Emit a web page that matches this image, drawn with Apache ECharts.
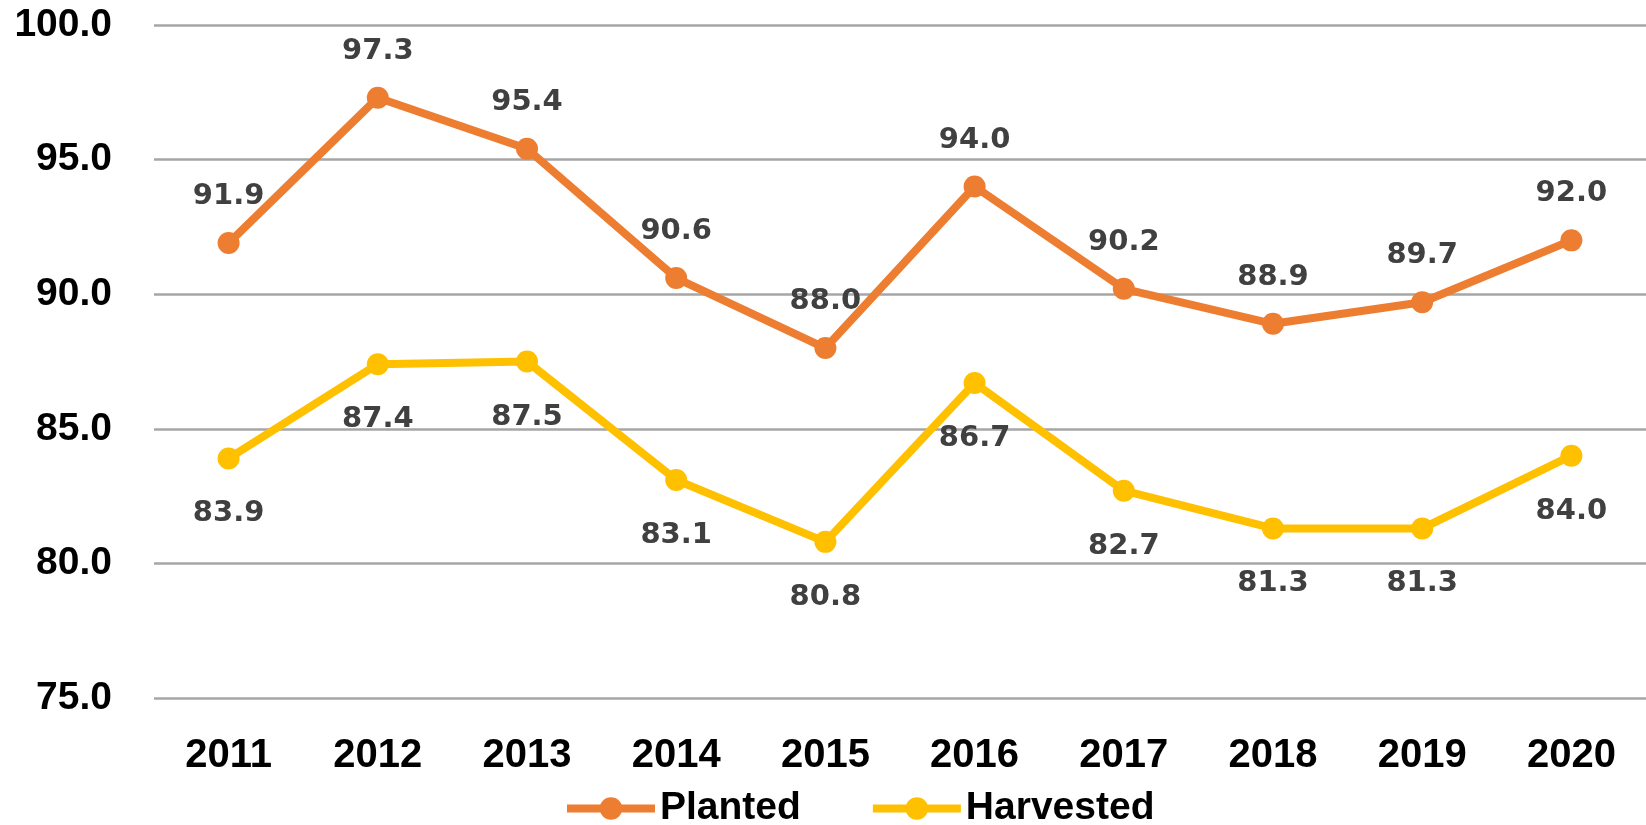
<!DOCTYPE html>
<html>
<head>
<meta charset="utf-8">
<script src="https://cdn.jsdelivr.net/npm/echarts@6/dist/echarts.min.js"></script>
<style>
  html, body { margin: 0; padding: 0; background: #fff; }
  #main { width: 1646px; height: 825px; }
</style>
</head>
<body>
<div id="main"></div>
<script>
// years on the x axis
var years = ['2011', '2012', '2013', '2014', '2015', '2016', '2017', '2018', '2019', '2020'];
// planted / harvested values
var planted = [91.9, 97.3, 95.4, 90.6, 88.0, 94.0, 90.2, 88.9, 89.7, 92.0];
var harvested = [83.9, 87.4, 87.5, 83.1, 80.8, 86.7, 82.7, 81.3, 81.3, 84.0];
var seriesNames = ['Planted', 'Harvested'];

var chart = echarts.init(document.getElementById('main'));

function labelOpt(pos, dist) {
  return {
    show: true,
    position: pos,
    distance: dist,
    color: '#404040',
    fontFamily: 'DejaVu Sans',
    fontWeight: 'bold',
    fontSize: 29,
    formatter: function (p) { return p.value.toFixed(1); }
  };
}

chart.setOption({
  animation: false,
  grid: {
    left: 154,
    right: 0,
    top: 25,
    bottom: 127,
    outerBoundsMode: 'none'
  },
  legend: {
    data: seriesNames,
    left: 558,
    top: 784,
    itemWidth: 88,
    itemHeight: 28,
    itemGap: 68,
    lineStyle: { width: 8 },
    textStyle: {
      fontFamily: 'Liberation Sans',
      fontWeight: 'bold',
      fontSize: 39,
      color: '#000'
    }
  },
  xAxis: {
    type: 'category',
    data: years,
    axisLine: { show: false },
    axisTick: { show: false },
    axisLabel: {
      margin: 38,
      color: '#000',
      fontFamily: 'Liberation Sans',
      fontWeight: 'bold',
      fontSize: 40
    }
  },
  yAxis: {
    type: 'value',
    min: 75,
    max: 100,
    interval: 5,
    axisLine: { show: false },
    axisTick: { show: false },
    splitLine: { lineStyle: { color: '#a6a6a6', width: 2.5 } },
    axisLabel: {
      margin: 42,
      color: '#000',
      fontFamily: 'Liberation Sans',
      fontWeight: 'bold',
      fontSize: 39,
      formatter: function (v) { return v.toFixed(1); }
    }
  },
  series: [
    {
      name: 'Planted',
      type: 'line',
      data: planted,
      symbol: 'circle',
      symbolSize: 22,
      color: '#ED7D31',
      lineStyle: { width: 8, color: '#ED7D31' },
      label: labelOpt('top', 21)
    },
    {
      name: 'Harvested',
      type: 'line',
      data: harvested,
      symbol: 'circle',
      symbolSize: 22,
      color: '#FFC000',
      lineStyle: { width: 8, color: '#FFC000' },
      label: labelOpt('bottom', 30)
    }
  ]
});
</script>
</body>
</html>
